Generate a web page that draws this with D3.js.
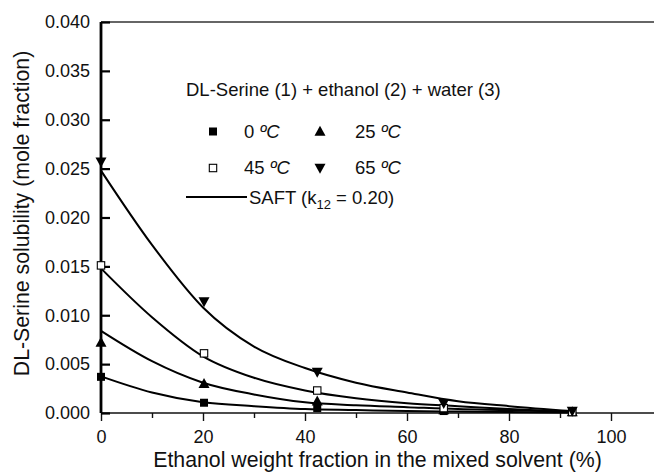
<!DOCTYPE html>
<html>
<head>
<meta charset="utf-8">
<script src="https://cdn.jsdelivr.net/npm/d3@7"></script>
<style>
  html, body { margin: 0; padding: 0; background: #fff; }
  svg { display: block; font-family: "Liberation Sans", Arial, Helvetica, sans-serif; }
</style>
</head>
<body>
<svg id="chart" width="654" height="474"></svg>
<script>
// ---- data ----
const expX = [0, 20.2, 42.4, 67.2, 92.4];
const exp0C  = [0.0037, 0.00105, 0.0005, 0.0002, 0.0001];
const exp25C = [0.0072, 0.0030, 0.0012, 0.0003, 0.0001];
const exp45C = [0.0151, 0.0061, 0.0023, 0.0005, 0.0001];
const exp65C = [0.0257, 0.0114, 0.0042, 0.0010, 0.0002];

const saftX   = [0, 10, 20, 30, 40, 50, 60, 70, 80, 92.4];
const saft0C  = [0.00375, 0.0021, 0.0011, 0.0007, 0.0004, 0.0003, 0.0002, 0.00015, 0.0001, 0.00005];
const saft25C = [0.0084, 0.0053, 0.0031, 0.0019, 0.0011, 0.0008, 0.0006, 0.0004, 0.0003, 0.0001];
const saft45C = [0.0148, 0.0098, 0.0058, 0.0036, 0.0023, 0.0015, 0.0010, 0.0007, 0.0004, 0.0001];
const saft65C = [0.0248, 0.0172, 0.0108, 0.0068, 0.0046, 0.0031, 0.0021, 0.0012, 0.0007, 0.0002];

const xMajorTicks = [0, 20, 40, 60, 80, 100];
const xMinorTicks = [10, 30, 50, 70, 90];
const yTicks = [0, 0.005, 0.010, 0.015, 0.020, 0.025, 0.030, 0.035, 0.040];

const seriesLabels = ["0", "25", "45", "65"];
const seriesSymbols = ["squareFilled", "triUp", "squareOpen", "triDown"];
const legendTitle = "DL-Serine (1) + ethanol (2) + water (3)";
const xTitle = "Ethanol weight fraction in the mixed solvent (%)";
const yTitle = "DL-Serine solubility (mole fraction)";

// ---- layout ----
const svg = d3.select("#chart");
const x = d3.scaleLinear().domain([0, 110]).range([101, 662]);
const y = d3.scaleLinear().domain([0, 0.04]).range([413, 22]);

const expSeries = [exp0C, exp25C, exp45C, exp65C];
const saftSeries = [saft0C, saft25C, saft45C, saft65C];

// top frame line
svg.append("line")
  .attr("x1", x(0)).attr("x2", 654)
  .attr("y1", y(0.04)).attr("y2", y(0.04))
  .attr("stroke", "#333").attr("stroke-width", 1.6);

// x axis
const xAxisG = svg.append("g").attr("transform", `translate(0,${y(0)})`);
xAxisG.call(d3.axisBottom(x).tickValues(xMinorTicks).tickSize(5).tickFormat(""));
xAxisG.call(g => g.select(".domain").remove());
const xAxisMajor = svg.append("g").attr("transform", `translate(0,${y(0)})`)
  .call(d3.axisBottom(x).tickValues(xMajorTicks).tickSize(8).tickPadding(9).tickFormat(d3.format("d")));
xAxisMajor.select(".domain").attr("d", `M${x(0)},0H654`).attr("stroke", "#111").attr("stroke-width", 1.4);
svg.selectAll("g .tick line").attr("stroke", "#111").attr("stroke-width", 1.4);
xAxisMajor.selectAll("text").attr("font-size", 18).attr("fill", "#111")
  .attr("font-family", '"Liberation Sans", Arial, sans-serif');

// y axis
const yAxisG = svg.append("g").attr("transform", `translate(${x(0)},0)`)
  .call(d3.axisLeft(y).tickValues(yTicks).tickSize(-9).tickPadding(11).tickFormat(d3.format(".3f")));
yAxisG.select(".domain").attr("d", `M0,${y(0)}V${y(0.04)}`).attr("stroke", "#000").attr("stroke-width", 2.8);
yAxisG.selectAll(".tick line").attr("stroke", "#000").attr("stroke-width", 2.2);
yAxisG.selectAll("text").attr("font-size", 18).attr("fill", "#111")
  .attr("font-family", '"Liberation Sans", Arial, sans-serif');

// titles
svg.append("text").attr("x", 377.5).attr("y", 466.5).attr("text-anchor", "middle")
  .attr("font-size", 21.3).attr("fill", "#111").text(xTitle);
svg.append("text").attr("transform", `translate(29,213.5) rotate(-90)`).attr("text-anchor", "middle")
  .attr("font-size", 21.3).attr("fill", "#111").text(yTitle);

// SAFT curves
const line = d3.line().x(d => x(d[0])).y(d => y(d[1])).curve(d3.curveMonotoneX);
saftSeries.forEach(s => {
  svg.append("path").datum(saftX.map((xv, i) => [xv, s[i]]))
    .attr("d", line).attr("fill", "none").attr("stroke", "#000").attr("stroke-width", 2);
});

// marker drawing
function drawSymbol(g, type, cx, cy) {
  if (type === "squareFilled") {
    g.append("rect").attr("x", cx - 4).attr("y", cy - 4).attr("width", 8).attr("height", 8).attr("fill", "#000");
  } else if (type === "squareOpen") {
    g.append("rect").attr("x", cx - 3.7).attr("y", cy - 3.7).attr("width", 7.4).attr("height", 7.4)
      .attr("fill", "#fff").attr("stroke", "#000").attr("stroke-width", 1.1);
  } else if (type === "triUp") {
    g.append("path").attr("d", `M${cx},${cy - 5.8}L${cx + 5.5},${cy + 4.2}L${cx - 5.5},${cy + 4.2}Z`).attr("fill", "#000");
  } else if (type === "triDown") {
    g.append("path").attr("d", `M${cx},${cy + 5.8}L${cx + 5.5},${cy - 4.2}L${cx - 5.5},${cy - 4.2}Z`).attr("fill", "#000");
  }
}
const markG = svg.append("g");
expSeries.forEach((s, k) => {
  expX.forEach((xv, i) => drawSymbol(markG, seriesSymbols[k], x(xv), y(s[i])));
});

// legend
const lg = svg.append("g").attr("font-size", 18.5).attr("fill", "#111");
lg.append("text").attr("x", 186).attr("y", 96).text(legendTitle);
const legPos = [[213, 131.5], [320, 131.5], [213, 168], [320, 168]];
seriesLabels.forEach((lab, k) => {
  const [sx, sy] = legPos[k];
  drawSymbol(lg, seriesSymbols[k], sx, sy);
  const t = lg.append("text").attr("x", sx + (k % 2 === 0 ? 31 : 35)).attr("y", sy + 6);
  t.append("tspan").text(lab + " ");
  t.append("tspan").attr("font-style", "italic").text("ºC");
});
lg.append("line").attr("x1", 186).attr("x2", 247).attr("y1", 197).attr("y2", 197)
  .attr("stroke", "#000").attr("stroke-width", 2);
const st = lg.append("text").attr("x", 249).attr("y", 204);
st.append("tspan").text("SAFT (k");
st.append("tspan").attr("font-size", 13).attr("dy", 5).text("12");
st.append("tspan").attr("dy", -5).text(" = 0.20)");
</script>
</body>
</html>
